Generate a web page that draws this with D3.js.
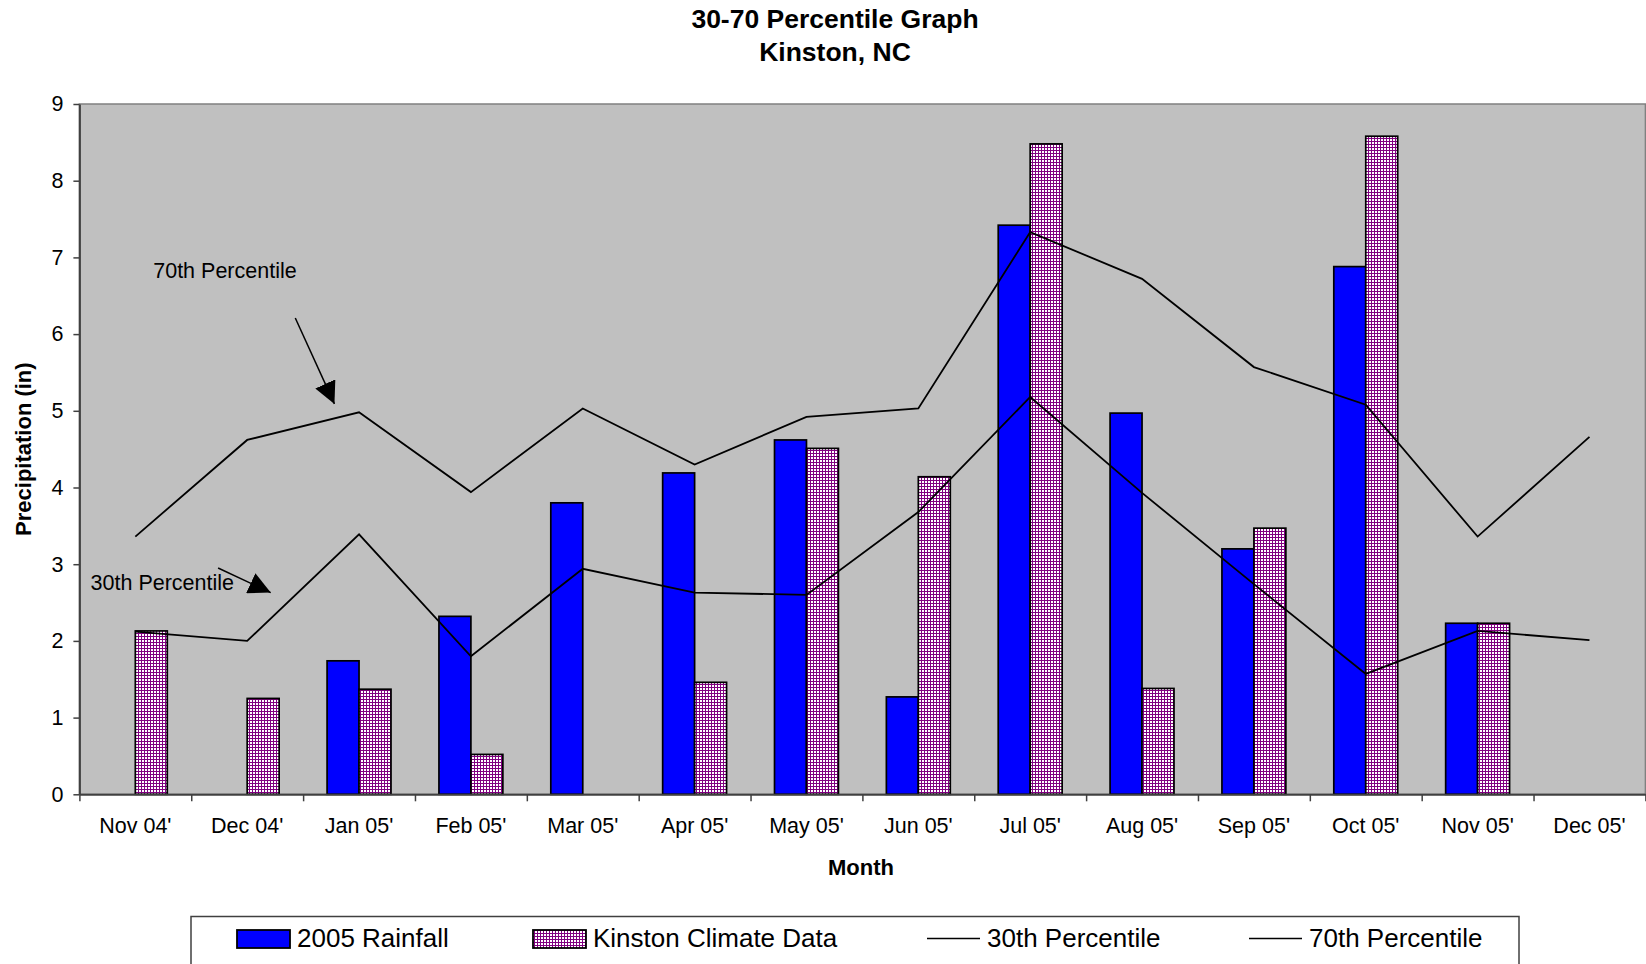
<!DOCTYPE html>
<html>
<head>
<meta charset="utf-8">
<script src="https://cdn.jsdelivr.net/npm/d3@7"></script>
<style>
  html, body { margin: 0; padding: 0; background: #ffffff; }
  svg { display: block; }
  text { font-family: "Liberation Sans", Arial, sans-serif; fill: #000; }
</style>
</head>
<body>
<svg id="chart" width="1646" height="964"></svg>
<script>
// Monthly categories along the x axis
const months = ["Nov 04'", "Dec 04'", "Jan 05'", "Feb 05'", "Mar 05'", "Apr 05'", "May 05'",
                "Jun 05'", "Jul 05'", "Aug 05'", "Sep 05'", "Oct 05'", "Nov 05'", "Dec 05'"];

// Precipitation (in); null = no bar for that month
const rainfall2005 = [null, null, 1.74, 2.32, 3.80, 4.19, 4.62, 1.27, 7.42, 4.97, 3.20, 6.88, 2.23, null];
const climateData  = [2.13, 1.25, 1.37, 0.52, null, 1.46, 4.51, 4.14, 8.48, 1.38, 3.47, 8.58, 2.23, null];

// Percentile envelopes
const pct30 = [2.12, 2.00, 3.39, 1.80, 2.94, 2.63, 2.60, 3.68, 5.18, 3.93, 2.74, 1.57, 2.13, 2.01];
const pct70 = [3.36, 4.62, 4.98, 3.94, 5.03, 4.30, 4.92, 5.03, 7.33, 6.72, 5.57, 5.08, 3.36, 4.66];

const yTicks = [0, 1, 2, 3, 4, 5, 6, 7, 8, 9];
const seriesKeys = ["rain", "climate"];

// Callout labels, positioned in month-index / value units
const callouts = [
  { label: "70th Percentile", tx: 0.66, ty: 6.73, x1: 1.93, y1: 6.21, x2: 2.28, y2: 5.09 },
  { label: "30th Percentile", tx: 0.10, ty: 2.66, x1: 1.24, y1: 2.95, x2: 1.71, y2: 2.63 }
];

const svg = d3.select("#chart");
const plotLeft = 79.4, plotRight = 1645.4, plotTop = 104, plotBottom = 794.3;

const x = d3.scaleBand().domain(months).range([plotLeft, plotRight]).padding(0);
const xPos = d3.scaleLinear().domain([0, months.length]).range([plotLeft, plotRight]);
const xs = d3.scaleBand().domain(seriesKeys).range([0, x.bandwidth()]).paddingInner(0).paddingOuter(0.75);
const y = d3.scaleLinear().domain([0, 9]).range([plotBottom, plotTop]);

// Grid-dot fill for the climate bars
const defs = svg.append("defs");
const pat = defs.append("pattern").attr("id", "smallgrid")
  .attr("patternUnits", "userSpaceOnUse").attr("width", 3).attr("height", 3);
pat.append("rect").attr("width", 3).attr("height", 3).attr("fill", "#800080");
pat.append("rect").attr("x", 1).attr("y", 1).attr("width", 2).attr("height", 2).attr("fill", "#ffffff");

// Plot area
svg.append("rect").attr("x", plotLeft).attr("y", plotTop)
  .attr("width", plotRight - plotLeft).attr("height", plotBottom - plotTop)
  .attr("fill", "#c0c0c0").attr("stroke", "#808080").attr("stroke-width", 1.5);

// Titles
svg.append("text").attr("x", 835).attr("y", 28).attr("text-anchor", "middle")
  .attr("font-size", 26.5).attr("font-weight", "bold").text("30-70 Percentile Graph");
svg.append("text").attr("x", 835).attr("y", 61).attr("text-anchor", "middle")
  .attr("font-size", 26.5).attr("font-weight", "bold").text("Kinston, NC");

// Bars
const barData = [
  { key: "rain", values: rainfall2005, fill: "#0000ff" },
  { key: "climate", values: climateData, fill: "url(#smallgrid)" }
];
barData.forEach(s => {
  svg.append("g").selectAll("rect")
    .data(months.map((m, i) => ({ m, v: s.values[i] })).filter(d => d.v != null))
    .join("rect")
    .attr("x", d => x(d.m) + xs(s.key))
    .attr("y", d => y(d.v))
    .attr("width", xs.bandwidth())
    .attr("height", d => y(0) - y(d.v))
    .attr("fill", s.fill)
    .attr("stroke", "#000").attr("stroke-width", 1.7);
});

// Percentile lines
const line = d3.line().x((d, i) => x(months[i]) + x.bandwidth() / 2).y(d => y(d));
[pct30, pct70].forEach(vals => {
  svg.append("path").datum(vals).attr("d", line)
    .attr("fill", "none").attr("stroke", "#000").attr("stroke-width", 1.8)
    .attr("stroke-linejoin", "miter");
});

// Y axis
const yAxis = svg.append("g").attr("transform", `translate(${plotLeft},0)`)
  .call(d3.axisLeft(y).tickValues(yTicks).tickSize(6).tickPadding(10).tickSizeOuter(0));
yAxis.select(".domain").attr("stroke", "#404040").attr("stroke-width", 2);
yAxis.selectAll(".tick line").attr("stroke", "#404040").attr("stroke-width", 1.5);
yAxis.selectAll("text").attr("font-size", 21.5).attr("font-family", "Liberation Sans, Arial, sans-serif");

// X axis: tick marks at month boundaries, labels at month centres
const xTicks = svg.append("g").attr("transform", `translate(0,${plotBottom})`)
  .call(d3.axisBottom(xPos).tickValues(d3.range(0, months.length + 1)).tickSize(7).tickFormat("").tickSizeOuter(0));
xTicks.select(".domain").attr("stroke", "#404040").attr("stroke-width", 2);
xTicks.selectAll(".tick line").attr("stroke", "#404040").attr("stroke-width", 1.5);

const xLabels = svg.append("g").attr("transform", `translate(0,${plotBottom})`)
  .call(d3.axisBottom(x).tickSize(0).tickPadding(23));
xLabels.select(".domain").remove();
xLabels.selectAll("text").attr("font-size", 21.5).attr("font-family", "Liberation Sans, Arial, sans-serif");

// Axis titles
svg.append("text").attr("x", 861).attr("y", 875).attr("text-anchor", "middle")
  .attr("font-size", 22).attr("font-weight", "bold").text("Month");
svg.append("text").attr("transform", `translate(31,${(plotTop + plotBottom) / 2}) rotate(-90)`)
  .attr("text-anchor", "middle").attr("font-size", 22).attr("font-weight", "bold")
  .text("Precipitation (in)");

// Callouts with arrows
defs.append("marker").attr("id", "arrowhead").attr("viewBox", "0 0 10 10")
  .attr("refX", 10).attr("refY", 5).attr("markerUnits", "userSpaceOnUse")
  .attr("markerWidth", 22).attr("markerHeight", 22).attr("orient", "auto")
  .append("path").attr("d", "M0,0 L10,5 L0,10 Z").attr("fill", "#000");

callouts.forEach(c => {
  svg.append("text").attr("x", xPos(c.tx)).attr("y", y(c.ty))
    .attr("font-size", 21.5).text(c.label);
  svg.append("line")
    .attr("x1", xPos(c.x1)).attr("y1", y(c.y1))
    .attr("x2", xPos(c.x2)).attr("y2", y(c.y2))
    .attr("stroke", "#000").attr("stroke-width", 1.5)
    .attr("marker-end", "url(#arrowhead)");
});

// Legend
const legend = svg.append("g");
legend.append("rect").attr("x", 191).attr("y", 916.5).attr("width", 1328).attr("height", 80)
  .attr("fill", "#fff").attr("stroke", "#404040").attr("stroke-width", 1.5);
const legendItems = [
  { label: "2005 Rainfall", type: "box", fill: "#0000ff", x: 237 },
  { label: "Kinston Climate Data", type: "box", fill: "url(#smallgrid)", x: 533 },
  { label: "30th Percentile", type: "line", x: 927 },
  { label: "70th Percentile", type: "line", x: 1249 }
];
legendItems.forEach(it => {
  if (it.type === "box") {
    legend.append("rect").attr("x", it.x).attr("y", 930).attr("width", 53).attr("height", 18)
      .attr("fill", it.fill).attr("stroke", "#000").attr("stroke-width", 1.8);
  } else {
    legend.append("line").attr("x1", it.x).attr("x2", it.x + 53).attr("y1", 938.5).attr("y2", 938.5)
      .attr("stroke", "#000").attr("stroke-width", 1.7);
  }
  legend.append("text").attr("x", it.x + 60).attr("y", 946.5).attr("font-size", 26).text(it.label);
});
</script>
</body>
</html>
